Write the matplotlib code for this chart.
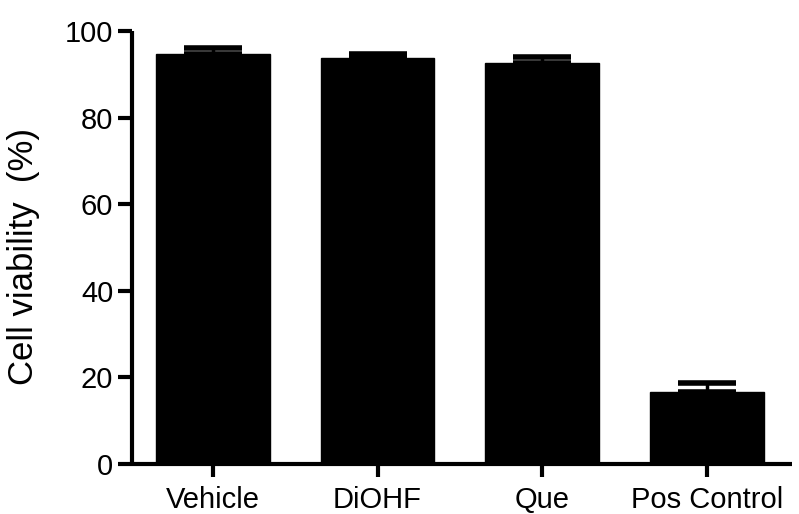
import matplotlib
matplotlib.use("Agg")
import matplotlib.pyplot as plt
import numpy as np

plt.rcParams['font.family'] = ['Liberation Sans', 'DejaVu Sans']

groups = ['Vehicle', 'DiOHF', 'Que', 'Pos Control']
viability = [94.6, 93.8, 92.7, 16.6]
sem = [1.5, 0.9, 1.3, 2.0]
y_ticks = [0, 20, 40, 60, 80, 100]

fig = plt.figure(figsize=(7.99, 5.14), dpi=100)
ax = fig.add_axes([0.1652, 0.0973, 0.9912 - 0.1652, 0.9397 - 0.0973])

x = np.arange(len(groups))
ax.bar(x, viability, width=0.69, color='black', edgecolor='black', zorder=2)
ax.errorbar(x, viability, yerr=[np.zeros(len(sem)), sem], fmt='none',
            ecolor='black', elinewidth=2.5, capsize=21, capthick=4, zorder=3)

ax.set_xlim(-0.49, 3.515)
ax.set_ylim(0, 100)
ax.set_yticks(y_ticks)
ax.set_xticks(x)
ax.set_xticklabels(groups)

for side in ['top', 'right']:
    ax.spines[side].set_visible(False)
for side in ['left', 'bottom']:
    ax.spines[side].set_linewidth(3)
    ax.spines[side].set_capstyle('butt')

ax.tick_params(axis='y', direction='out', length=10, width=3, labelsize=21, pad=3.5)
ax.tick_params(axis='x', direction='out', length=9.5, width=3, labelsize=21, pad=6)

ax.set_ylabel('Cell viability  (%)', fontsize=25)
ax.yaxis.set_label_coords(-0.14, 0.48)

fig.savefig('out.png', dpi=100)
